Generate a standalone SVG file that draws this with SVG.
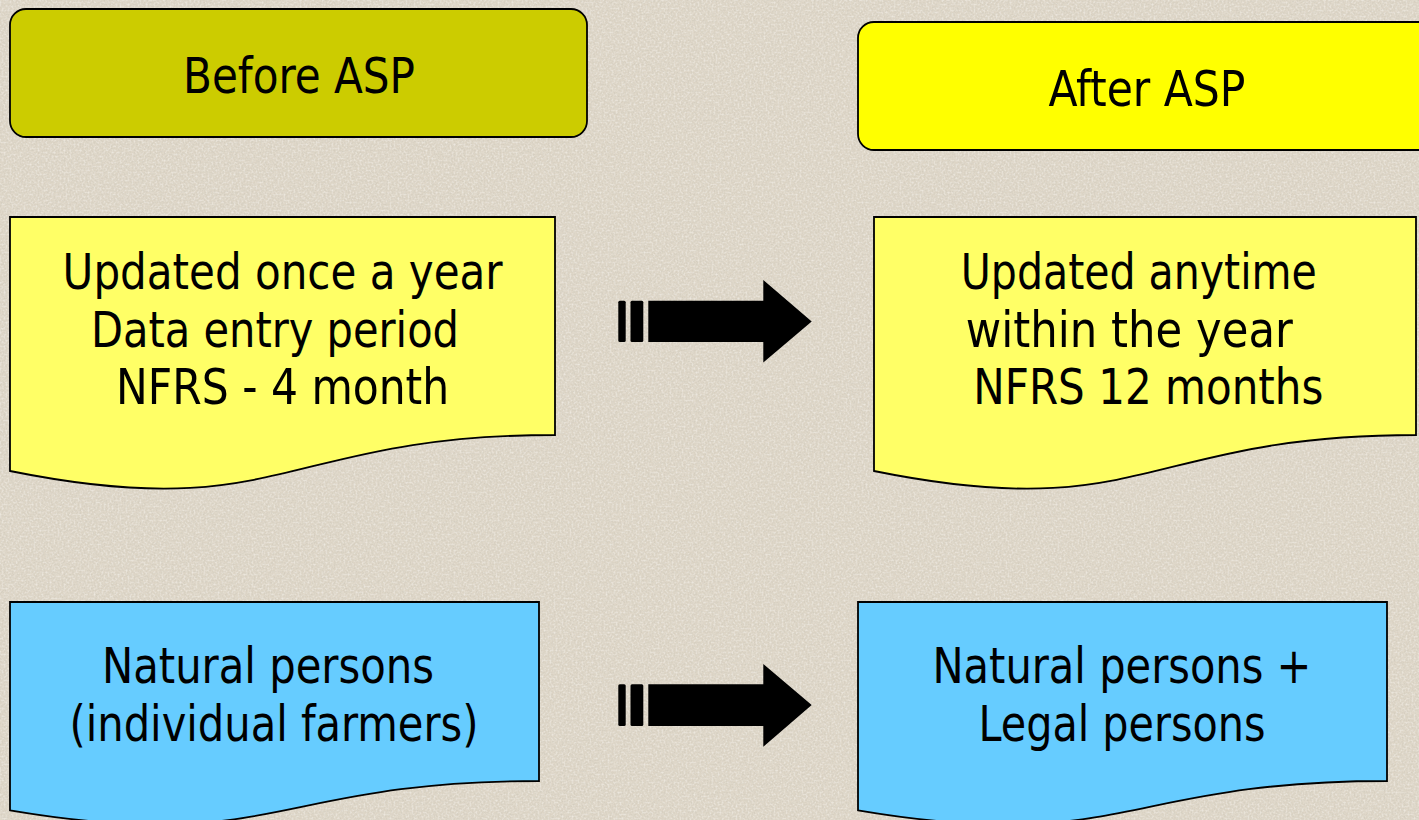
<svg xmlns="http://www.w3.org/2000/svg" width="1419" height="820" viewBox="0 0 1419 820">
  <defs>
    <filter id="grain" x="0" y="0" width="100%" height="100%">
      <feTurbulence type="fractalNoise" baseFrequency="0.7" numOctaves="3" seed="7" result="n"/>
      <feColorMatrix in="n" type="matrix" values="0 0 0 0 0.62  0 0 0 0 0.58  0 0 0 0 0.5  0 0 0 -2.2 1.35" result="g"/>
      <feComposite in="g" in2="SourceGraphic" operator="in"/>
    </filter>
    <filter id="grain2" x="0" y="0" width="100%" height="100%">
      <feTurbulence type="fractalNoise" baseFrequency="0.5" numOctaves="2" seed="11" result="n"/>
      <feColorMatrix in="n" type="matrix" values="0 0 0 0 0.97  0 0 0 0 0.95  0 0 0 0 0.92  0 0 0 -2.4 1.4" result="g"/>
      <feComposite in="g" in2="SourceGraphic" operator="in"/>
    </filter>
    <style>
      .t { font-family: "DejaVu Sans Condensed", "DejaVu Sans", sans-serif; font-stretch: condensed; font-size: 49px; fill: #000; text-anchor: middle; }
      .box { stroke: #000; stroke-width: 1.8; }
      .hdr1 { fill: #CCCC00; }
      .hdr2 { fill: #FFFF00; }
      .doc-y { fill: #FFFF66; }
      .doc-b { fill: #66CCFF; }
      .arrow { fill: #000; }
    </style>
  </defs>

  <rect width="1419" height="820" fill="#DDD5C6"/>
  <rect width="1419" height="820" fill="#DDD5C6" filter="url(#grain)" opacity="0.6"/>
  <rect width="1419" height="820" fill="#DDD5C6" filter="url(#grain2)" opacity="0.5"/>

  <g id="before-asp">
    <rect class="box hdr1" x="10" y="9" width="577" height="128" rx="16"/>
    <text class="t" x="299" y="92.5" textLength="232" lengthAdjust="spacingAndGlyphs">Before ASP</text>
  </g>

  <g id="after-asp">
    <rect class="box hdr2" x="858" y="22" width="580" height="128" rx="16"/>
    <text class="t" x="1147" y="105.5" textLength="197" lengthAdjust="spacingAndGlyphs">After ASP</text>
  </g>

  <g id="before-update">
    <path class="box doc-y" d="M10,217 H555 V435 C282.5,435 282.5,526 10,471 Z"/>
    <text class="t" x="282.6" y="289" textLength="440" lengthAdjust="spacingAndGlyphs">Updated once a year</text>
    <text class="t" x="275" y="346.5" textLength="368" lengthAdjust="spacingAndGlyphs">Data entry period</text>
    <text class="t" x="282.6" y="404" textLength="333" lengthAdjust="spacingAndGlyphs">NFRS - 4 month</text>
  </g>

  <g id="after-update">
    <path class="box doc-y" d="M874,217 H1416 V435 C1145,435 1145,526 874,471 Z"/>
    <text class="t" x="1138.8" y="289" textLength="356" lengthAdjust="spacingAndGlyphs">Updated anytime</text>
    <text class="t" x="1129.3" y="346.5" textLength="327" lengthAdjust="spacingAndGlyphs">within the year</text>
    <text class="t" x="1148.3" y="404" textLength="350" lengthAdjust="spacingAndGlyphs">NFRS 12 months</text>
  </g>

  <g id="before-persons">
    <path class="box doc-b" d="M10,602 H539 V781 C274.5,781 274.5,855 10,810.3 Z"/>
    <text class="t" x="268" y="683" textLength="332" lengthAdjust="spacingAndGlyphs">Natural persons</text>
    <text class="t" x="274" y="740.5" textLength="409" lengthAdjust="spacingAndGlyphs">(individual farmers)</text>
  </g>

  <g id="after-persons">
    <path class="box doc-b" d="M858,602 H1387 V781 C1122.5,781 1122.5,855 858,810.3 Z"/>
    <text class="t" x="1122" y="683" textLength="379" lengthAdjust="spacingAndGlyphs">Natural persons +</text>
    <text class="t" x="1122" y="740.5" textLength="287" lengthAdjust="spacingAndGlyphs">Legal persons</text>
  </g>

  <g id="connectors">
    <g id="arrow-1">
      <rect class="arrow" x="618.3" y="300.7" width="7.4" height="41.3" rx="1.5"/>
      <rect class="arrow" x="630.5" y="300.7" width="12.8" height="41.3" rx="1.5"/>
      <path class="arrow" d="M648.3,300.7 H763.3 V280 L811.7,321.5 L763.3,362.5 V342 H648.3 Z"/>
    </g>
    <g id="arrow-2">
      <rect class="arrow" x="618.3" y="684.3" width="7.4" height="41.7" rx="1.5"/>
      <rect class="arrow" x="630.5" y="684.3" width="12.8" height="41.7" rx="1.5"/>
      <path class="arrow" d="M648.3,684.3 H763.3 V664 L811.7,705 L763.3,746.7 V726 H648.3 Z"/>
    </g>
  </g>
</svg>
